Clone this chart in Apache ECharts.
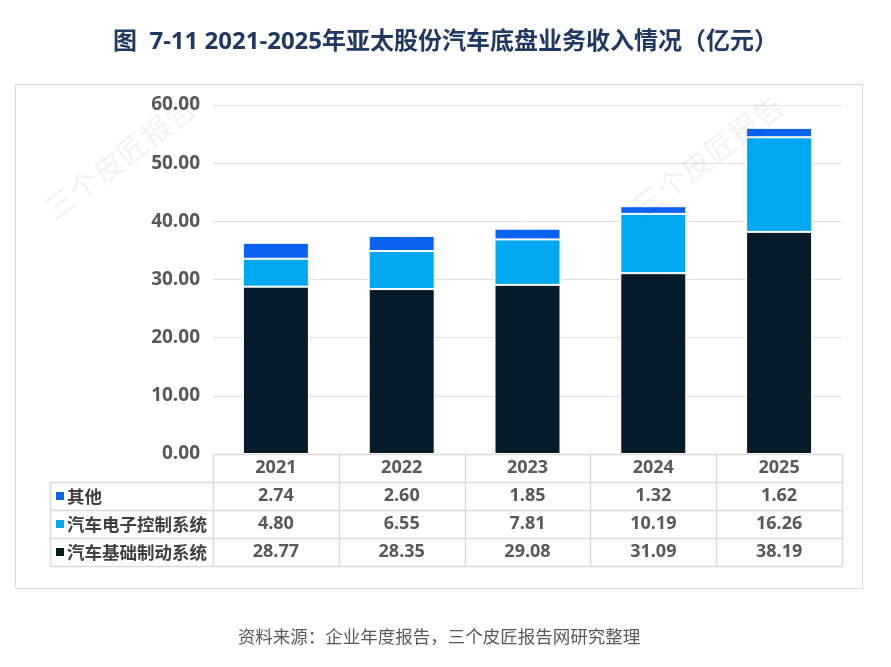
<!DOCTYPE html>
<html lang="zh-CN">
<head>
  <meta charset="UTF-8">
  <title>2021-2025年亚太股份汽车底盘业务收入情况</title>
  <script src="https://cdn.jsdelivr.net/npm/echarts@6/dist/echarts.min.js"></script>
  <style>
    html, body { margin: 0; padding: 0; background: #fff; }
    #main { width: 891px; height: 667px; }
  </style>
</head>
<body>
<div id="main"></div>
<script>
  var years = ['2021', '2022', '2023', '2024', '2025'];
  var seriesNames = ['其他', '汽车电子控制系统', '汽车基础制动系统'];
  var other = [2.74, 2.60, 1.85, 1.32, 1.62];
  var electronic = [4.80, 6.55, 7.81, 10.19, 16.26];
  var braking = [28.77, 28.35, 29.08, 31.09, 38.19];
  var colors = ['#0a62f0', '#00a8f2', '#061b29'];

  var FONT = '"Open Sans", "Noto Sans CJK SC", sans-serif';
  var gridLeft = 213, gridRight = 49, gridTop = 105, gridBottom = 213;
  var rowH = 28;

  var myChart = echarts.init(document.getElementById('main'));

  function makeSeries(name, data, color) {
    return {
      name: name,
      type: 'bar',
      stack: 'total',
      barWidth: 66,
      data: data,
      itemStyle: { color: color, borderColor: '#fff', borderWidth: 1 }
    };
  }

  myChart.setOption({
    animation: false,
    backgroundColor: '#fff',
    title: {
      text: '图  7-11 2021-2025年亚太股份汽车底盘业务收入情况（亿元）',
      left: 'center',
      top: 25,
      textStyle: { fontFamily: FONT, fontSize: 24, fontWeight: 'bold', color: '#1f3864' }
    },
    grid: { left: gridLeft, right: gridRight, top: gridTop, bottom: gridBottom },
    xAxis: {
      type: 'category',
      data: years,
      axisLine: { show: false },
      axisTick: { show: false },
      axisLabel: { show: false }
    },
    yAxis: {
      type: 'value',
      min: 0,
      max: 60,
      interval: 10,
      axisLine: { show: false },
      axisTick: { show: false },
      axisLabel: {
        margin: 13,
        formatter: function (v) { return v.toFixed(2); },
        fontFamily: FONT, fontSize: 19, fontWeight: 'bold', color: '#595959'
      },
      splitLine: { lineStyle: { color: '#e0e0e0', width: 1 } }
    },
    series: [
      makeSeries(seriesNames[2], braking, colors[2]),
      makeSeries(seriesNames[1], electronic, colors[1]),
      makeSeries(seriesNames[0], other, colors[0])
    ]
  });

  // data table under the plot, columns aligned with the category axis
  function buildTable() {
    var g = [];
    var lineColor = '#d9d9d9';
    var top = myChart.convertToPixel({ yAxisIndex: 0 }, 0);
    var colW = (891 - gridLeft - gridRight) / years.length;
    var right = gridLeft + colW * years.length;
    var tableLeft = 50;
    var rows = [other, electronic, braking];

    // outer frame
    g.push({ type: 'rect', shape: { x: 15.5, y: 84.5, width: 847, height: 504 },
      style: { fill: null, stroke: lineColor, lineWidth: 1 }, z: -1 });

    // horizontal lines
    for (var r = 0; r <= 4; r++) {
      var y = Math.round(top + r * rowH) + 0.5;
      var x0 = r === 0 ? gridLeft : tableLeft;
      g.push({ type: 'line', shape: { x1: x0, y1: y, x2: right, y2: y },
        style: { stroke: lineColor, lineWidth: 1.5 } });
    }
    // vertical lines
    for (var c = 0; c <= years.length; c++) {
      var x = Math.round(gridLeft + c * colW) + 0.5;
      g.push({ type: 'line', shape: { x1: x, y1: top, x2: x, y2: top + 4 * rowH },
        style: { stroke: lineColor, lineWidth: 1.5 } });
    }
    g.push({ type: 'line', shape: { x1: tableLeft + 0.5, y1: top + rowH, x2: tableLeft + 0.5, y2: top + 4 * rowH },
      style: { stroke: lineColor, lineWidth: 1.5 } });

    // header
    years.forEach(function (yr, i) {
      var cx = myChart.convertToPixel({ xAxisIndex: 0 }, yr);
      g.push({ type: 'text', x: cx, y: top + rowH / 2,
        style: { text: yr, align: 'center', verticalAlign: 'middle',
          font: 'bold 18px ' + FONT, fill: '#595959' } });
    });

    // rows
    rows.forEach(function (vals, r) {
      var cy = top + (r + 1) * rowH + rowH / 2;
      g.push({ type: 'rect', shape: { x: 56, y: cy - 4, width: 8, height: 8 },
        style: { fill: colors[r] } });
      g.push({ type: 'text', x: 67, y: cy,
        style: { text: seriesNames[r], align: 'left', verticalAlign: 'middle',
          font: 'bold 17.5px "Noto Sans CJK SC", sans-serif', fill: '#404040' } });
      vals.forEach(function (v, i) {
        var cx = myChart.convertToPixel({ xAxisIndex: 0 }, years[i]);
        g.push({ type: 'text', x: cx, y: cy,
          style: { text: v.toFixed(2), align: 'center', verticalAlign: 'middle',
            font: 'bold 18px ' + FONT, fill: '#595959' } });
      });
    });

    // watermarks
    [[120, 158], [708, 156]].forEach(function (p) {
      g.push({ type: 'text', x: p[0], y: p[1], rotation: Math.PI * 37 / 180,
        style: { text: '三个皮匠报告', align: 'center', verticalAlign: 'middle',
          font: '30px "Noto Sans CJK SC", sans-serif', fill: 'rgba(0,0,0,0.055)' }, z: 100 });
    });

    // source note
    g.push({ type: 'text', x: 439, y: 636,
      style: { text: '资料来源：企业年度报告，三个皮匠报告网研究整理', align: 'center', verticalAlign: 'middle',
        font: '17.5px "Noto Sans CJK SC", sans-serif', fill: '#595959' } });

    myChart.setOption({ graphic: g });
  }
  buildTable();
</script>
</body>
</html>
